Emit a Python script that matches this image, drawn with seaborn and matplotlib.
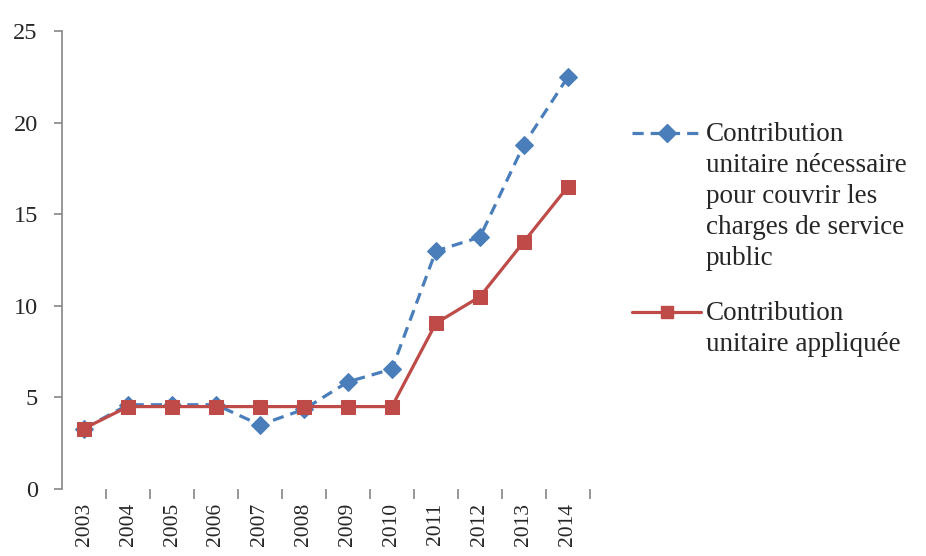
import matplotlib
matplotlib.use("Agg")
import matplotlib.pyplot as plt
from matplotlib.lines import Line2D
import seaborn as sns
import numpy as np
import pandas as pd

years = ["2003", "2004", "2005", "2006", "2007", "2008",
         "2009", "2010", "2011", "2012", "2013", "2014"]
necessaire = [3.3, 4.6, 4.6, 4.6, 3.5, 4.35, 5.85, 6.55, 13.0, 13.75, 18.8, 22.5]
appliquee = [3.3, 4.5, 4.5, 4.5, 4.5, 4.5, 4.5, 4.5, 9.05, 10.5, 13.5, 16.5]
labels = ["Contribution\nunitaire nécessaire\npour couvrir les\ncharges de service\npublic",
          "Contribution\nunitaire appliquée"]

sns.set_style("white")
plt.rcParams['font.family'] = ['Liberation Serif', 'DejaVu Serif']

blue = "#4A7EBB"
red = "#BE4B48"
dash = (0, (3.5, 2.2))

df = pd.DataFrame({"x": np.arange(len(years)), "a": necessaire, "b": appliquee})

fig = plt.figure(figsize=(9.26, 5.56), dpi=100)
ax = fig.add_axes([0.067, 0.1205, 0.57, 0.8235])

sns.lineplot(data=df, x="x", y="a", ax=ax, color=blue, linewidth=2.3,
             linestyle=dash, marker="D", markersize=9.5,
             markeredgecolor=blue)
sns.lineplot(data=df, x="x", y="b", ax=ax, color=red, linewidth=2.3,
             marker="s", markersize=9.5, markeredgecolor=red)

ax.set_xlim(-0.5, 11.5)
ax.set_ylim(0, 25)
ax.set_yticks([0, 5, 10, 15, 20, 25])
ax.set_xticks(np.arange(len(years)))
ax.set_xticklabels(years, rotation=90, fontsize=15.5)
ax.set_xticks(np.arange(0.5, 12, 1), minor=True)
ax.tick_params(axis="x", which="major", bottom=False, length=0, pad=10)
ax.tick_params(axis="x", which="minor", bottom=True, length=7, width=1.2,
               color="#868686", direction="out")
ax.tick_params(axis="y", left=True, length=5.5, width=1.2, color="#868686",
               direction="out", labelsize=17.5, pad=12)
ax.set_xlabel("")
ax.set_ylabel("")

for s in ["top", "right", "bottom"]:
    ax.spines[s].set_visible(False)
ax.spines["left"].set_color("#868686")
ax.spines["left"].set_linewidth(1.2)

# legend drawn by hand so the handle sits on the first text line
W, H = 926, 556
entries = [(blue, dash, "D", 9, labels[0], 133),
           (red, "-", "s", 9, labels[1], 312)]
for col, ls, mk, ms, lab, ypix in entries:
    y = 1 - ypix / H
    fig.add_artist(Line2D([632 / W, 701 / W], [y, y], transform=fig.transFigure,
                          color=col, linewidth=2.3, linestyle=ls))
    fig.add_artist(Line2D([667 / W], [y], transform=fig.transFigure,
                          color=col, marker=mk, markersize=ms, linestyle="none"))
    fig.text(706 / W, y + 11 / H, lab, fontsize=19.5, va="top", ha="left",
             linespacing=1.32)

fig.savefig("out.png", dpi=100)
